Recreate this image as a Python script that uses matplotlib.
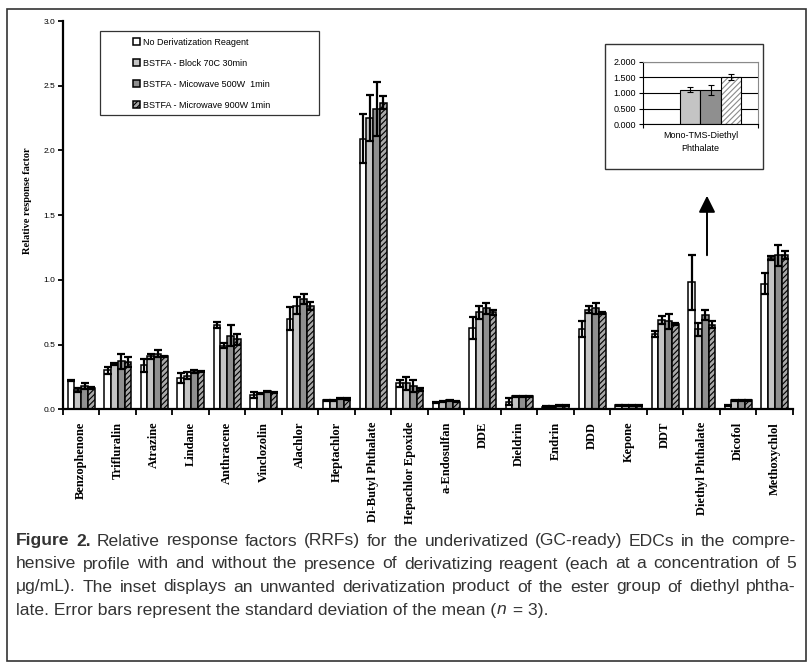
import numpy as np
import matplotlib.pyplot as plt
from matplotlib.patches import Rectangle, FancyArrowPatch

# -------------------------------
# data
# -------------------------------
categories = ['Benzophenone', 'Trifluralin', 'Atrazine', 'Lindane', 'Anthracene',
              'Vinclozolin', 'Alachlor', 'Heptachlor', 'Di-Butyl Phthalate',
              'Hepachlor Epoxide', 'a-Endosulfan', 'DDE', 'Dieldrin', 'Endrin',
              'DDD', 'Kepone', 'DDT', 'Diethyl Phthalate', 'Dicofol', 'Methoxychlol']

series_labels = ['No Derivatization Reagent', 'BSTFA - Block 70C 30min',
                 'BSTFA - Micowave 500W  1min', 'BSTFA - Microwave 900W 1min']

no_reagent = [0.22, 0.30, 0.34, 0.24, 0.65, 0.11, 0.70, 0.07, 2.09, 0.20,
              0.05, 0.63, 0.06, 0.02, 0.62, 0.03, 0.58, 0.98, 0.03, 0.97]
no_reagent_err = [0.005, 0.025, 0.05, 0.04, 0.025, 0.02, 0.09, 0.005, 0.19, 0.025,
                  0.005, 0.085, 0.025, 0.005, 0.065, 0.005, 0.025, 0.21, 0.005, 0.08]
block = [0.15, 0.35, 0.41, 0.26, 0.49, 0.12, 0.80, 0.07, 2.25, 0.20,
         0.06, 0.75, 0.10, 0.02, 0.77, 0.03, 0.69, 0.62, 0.07, 1.17]
block_err = [0.015, 0.01, 0.02, 0.025, 0.02, 0.005, 0.065, 0.005, 0.18, 0.05,
             0.005, 0.05, 0.005, 0.005, 0.025, 0.005, 0.03, 0.05, 0.005, 0.015]
mw500 = [0.18, 0.37, 0.43, 0.29, 0.57, 0.14, 0.85, 0.085, 2.32, 0.18,
         0.07, 0.78, 0.10, 0.03, 0.78, 0.03, 0.68, 0.73, 0.07, 1.19]
mw500_err = [0.025, 0.06, 0.025, 0.012, 0.08, 0.005, 0.04, 0.005, 0.21, 0.045,
             0.005, 0.045, 0.005, 0.005, 0.045, 0.005, 0.06, 0.04, 0.005, 0.08]
mw900 = [0.165, 0.365, 0.41, 0.29, 0.54, 0.13, 0.80, 0.08, 2.37, 0.155,
         0.06, 0.75, 0.10, 0.03, 0.745, 0.03, 0.66, 0.655, 0.07, 1.19]
mw900_err = [0.005, 0.04, 0.005, 0.005, 0.04, 0.005, 0.03, 0.005, 0.05, 0.01,
             0.005, 0.02, 0.005, 0.005, 0.005, 0.005, 0.01, 0.03, 0.005, 0.03]

# inset: Mono-TMS-Diethyl Phthalate (no bar for the un-derivatized run)
inset_category = 'Mono-TMS-Diethyl\nPhthalate'
inset_vals = [0.0, 1.10, 1.10, 1.50]
inset_err = [0.0, 0.08, 0.15, 0.10]

caption = [
    [("Figure", "bold"), ("2.", "bold"), "Relative response factors (RRFs) for the underivatized (GC-ready) EDCs in the compre-"],
    ["hensive profile with and without the presence of derivatizing reagent (each at a concentration of 5"],
    ["\u03bcg/mL). The inset displays an unwanted derivatization product of the ester group of diethyl phtha-"],
    ["late. Error bars represent the standard deviation of the mean (", ("n", "italic"), " = 3)."],
]

# -------------------------------
# figure
# -------------------------------
W, H = 812, 667
fig = plt.figure(figsize=(W / 100, H / 100), dpi=100)
plt.rcParams['hatch.linewidth'] = 0.8


def fx(px):
    return px / W


def fy(py):
    return 1 - py / H


# outer frame
fig.patches.append(Rectangle((fx(7), fy(661)), fx(806) - fx(7), fy(9) - fy(661),
                             transform=fig.transFigure, fill=False,
                             edgecolor='#333333', lw=1.2))

ax = fig.add_axes([fx(63), fy(409.3), fx(793) - fx(63), fy(21) - fy(409.3)])

colors = ['white', '#c4c4c4', '#8f8f8f', '#a8a8a8']
hatches = [None, None, None, '//////']
values = [no_reagent, block, mw500, mw900]
errors = [no_reagent_err, block_err, mw500_err, mw900_err]

x = np.arange(len(categories))
w = 0.185
for i in range(4):
    ax.bar(x + (i - 1.5) * w, values[i], w, color=colors[i], edgecolor='black',
           linewidth=1.1, hatch=hatches[i], label=series_labels[i], zorder=2)
    ax.errorbar(x + (i - 1.5) * w, values[i], yerr=errors[i], fmt='none',
                ecolor='black', elinewidth=1.6, capsize=3, capthick=1.6, zorder=3)

ax.set_xlim(-0.5, len(categories) - 0.5)
ax.set_ylim(0, 3.0)
ax.set_yticks(np.arange(0, 3.01, 0.5))
ax.set_yticklabels(['%.1f' % v for v in np.arange(0, 3.01, 0.5)],
                   fontsize=6, family='Liberation Sans')
ax.tick_params(axis='y', direction='out', length=3.5, width=1.3, pad=2)

ax.set_xticks(x)
ax.set_xticklabels(categories, rotation=90, fontsize=9, fontweight='bold',
                   family='Liberation Serif', va='top')
ax.tick_params(axis='x', which='major', length=0, pad=9)
ax.set_xticks(np.arange(-0.5, len(categories)), minor=True)
ax.tick_params(axis='x', which='minor', direction='out', length=4, width=1.3)

for s in ['top', 'right']:
    ax.spines[s].set_visible(False)
for s in ['left', 'bottom']:
    ax.spines[s].set_linewidth(1.6)
ax.patch.set_alpha(0)

fig.text(fx(28), fy(201), 'Relative response factor', rotation=90, fontsize=7.5,
         fontweight='bold', family='Liberation Serif', ha='center', va='center')

# legend in a plain box
fig.patches.append(Rectangle((fx(100), fy(115)), fx(319) - fx(100), fy(31) - fy(115),
                             transform=fig.transFigure, fill=False,
                             edgecolor='#333333', lw=0.9))
leg = ax.legend(loc='upper left', bbox_to_anchor=(fx(129), fy(34)),
                bbox_transform=fig.transFigure, frameon=False,
                prop={'family': 'Liberation Sans', 'size': 6.5},
                handlelength=0.8, handleheight=0.8, handletextpad=0.3,
                labelspacing=1.33, borderaxespad=0)

# arrow pointing to the inset
fig.add_artist(FancyArrowPatch(
    (fx(707), fy(258)), (fx(707), fy(193)), transform=fig.transFigure,
    arrowstyle='-|>,head_length=1.0,head_width=0.5', mutation_scale=10,
    lw=1.4, color='black'))

# -------------------------------
# inset
# -------------------------------
fig.patches.append(Rectangle((fx(605), fy(169)), fx(763) - fx(605), fy(44) - fy(169),
                             transform=fig.transFigure, fill=False,
                             edgecolor='#333333', lw=1.0))
ins = fig.add_axes([fx(643), fy(124.3), fx(758) - fx(643), fy(61.7) - fy(124.3)])
iw = 0.178
for i in range(1, 4):
    if i == 3:
        ins.bar((i - 1.5) * iw, inset_vals[i], iw, color='white', edgecolor='#8a8a8a',
                hatch='//////', linewidth=0, zorder=2)
        ins.bar((i - 1.5) * iw, inset_vals[i], iw, fill=False, edgecolor='black',
                linewidth=0.8, zorder=2)
    else:
        ins.bar((i - 1.5) * iw, inset_vals[i], iw, color=colors[i], edgecolor='black',
                linewidth=0.8, zorder=2)
    ins.errorbar((i - 1.5) * iw, inset_vals[i], yerr=inset_err[i], fmt='none',
                 ecolor='black', elinewidth=0.8, capsize=2.5, capthick=0.8, zorder=3)
ins.set_xlim(-0.5, 0.5)
ins.set_ylim(0, 2.0)
ins.set_yticks(np.arange(0, 2.01, 0.5))
ins.set_yticklabels(['%.3f' % v for v in np.arange(0, 2.01, 0.5)],
                    fontsize=6.5, family='Liberation Sans')
ins.yaxis.grid(True, color='black', lw=0.8)
ins.set_axisbelow(True)
ins.tick_params(axis='y', length=3, width=0.8, pad=2)
ins.set_xticks([0])
ins.set_xticklabels([inset_category], fontsize=6.5, family='Liberation Sans',
                    linespacing=1.6)
ins.tick_params(axis='x', which='major', length=0, pad=5)
ins.set_xticks([-0.5, 0.5], minor=True)
ins.tick_params(axis='x', which='minor', length=3, width=0.8)
for s in ['top', 'right']:
    ins.spines[s].set_color('#8a8a8a')
    ins.spines[s].set_linewidth(0.8)
for s in ['left', 'bottom']:
    ins.spines[s].set_linewidth(0.8)
ins.patch.set_alpha(0)

# -------------------------------
# caption, justified word by word
# -------------------------------
renderer = fig.canvas.get_renderer()
cap_font = 'Liberation Sans'
cap_size = 12.6
x0, x1 = 16, 796
line_y = [541, 564, 587, 610]


def words_of(line):
    out = []
    for piece in line:
        if isinstance(piece, tuple):
            out.append(piece)
        else:
            for p in piece.split(' '):
                if p:
                    out.append((p, 'normal'))
    return out


def add_text(s, style, xp, yp):
    kw = dict(fontsize=cap_size, family=cap_font, color='#333333', va='center', ha='left')
    if style == 'bold':
        kw['fontweight'] = 'bold'
    if style == 'italic':
        kw['style'] = 'italic'
    return fig.text(fx(xp), fy(yp), s, **kw)


for k, line in enumerate(caption):
    y = line_y[k]
    if k < 3:
        words = words_of(line)
        texts = []
        widths = []
        for s, st in words:
            t = add_text(s, st, 0, y)
            texts.append(t)
            widths.append(t.get_window_extent(renderer).width)
        gap = (x1 - x0 - sum(widths)) / (len(words) - 1)
        xp = x0
        for t, wdt in zip(texts, widths):
            t.set_x(fx(xp))
            xp += wdt + gap
    else:
        xp = x0
        for piece in line:
            s, st = piece if isinstance(piece, tuple) else (piece, 'normal')
            t = add_text(s, st, xp, y)
            xp += t.get_window_extent(renderer).width + 1

fig.savefig('out.png', dpi=100)
